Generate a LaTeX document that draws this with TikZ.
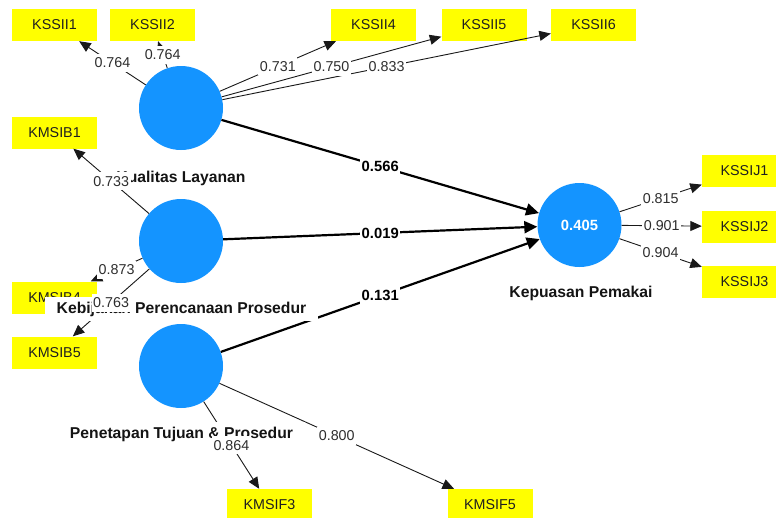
\documentclass[tikz,border=0pt]{standalone}
\usepackage{fontspec}
\setmainfont{Liberation Sans}
\usetikzlibrary{arrows.meta}
\definecolor{lvblue}{RGB}{20,148,255}
\definecolor{mvyellow}{RGB}{255,255,0}
\definecolor{ldgray}{RGB}{45,45,45}
\begin{document}
\begin{tikzpicture}[x=1pt,y=-1pt,
  lv/.style={circle,fill=lvblue,minimum size=84pt,inner sep=0pt,text=white,font=\fontsize{14.8}{16}\selectfont\bfseries},
  mv/.style={rectangle,fill=mvyellow,minimum width=85pt,minimum height=32pt,inner sep=0pt,font=\fontsize{14.3}{16}\selectfont,text=black!88},
  lvname/.style={fill=white,inner xsep=12pt,inner ysep=0pt,text height=11.5pt,text depth=3.5pt,minimum height=24pt,font=\fontsize{15.7}{18}\selectfont\bfseries,text=black!92},
  load/.style={draw=black!90,line width=0.9pt,-{Triangle[length=11.5pt,width=10pt]}},
  pathc/.style={draw=black,line width=2.2pt,-{Triangle[length=13pt,width=12pt]}},
  loadlbl/.style={fill=white,inner xsep=1.5pt,inner ysep=4pt,font=\fontsize{14.3}{16}\selectfont,text=ldgray},
  pathlbl/.style={fill=white,inner xsep=1.5pt,inner ysep=3pt,font=\fontsize{14.8}{16}\selectfont\bfseries}
]
\useasboundingbox (0,0) rectangle (776,517);
\clip (0,0) rectangle (776,517);
\fill[white] (0,0) rectangle (776,517);

% latent variables
\node[lv] (KL) at (181,108) {};
\node[lv] (KP) at (181,241) {};
\node[lv] (PT) at (181,366) {};
\node[lv] (KEP) at (579.5,225) {0.405};

% indicators
\node[mv] (KSSII1) at (54.5,25) {KSSII1};
\node[mv] (KSSII2) at (152.5,25) {KSSII2};
\node[mv] (KSSII4) at (373.5,25) {KSSII4};
\node[mv] (KSSII5) at (484,25) {KSSII5};
\node[mv] (KSSII6) at (593.5,25) {KSSII6};
\node[mv] (KMSIB1) at (54.5,132.5) {KMSIB1};
\node[mv] (KMSIB4) at (54.5,297.5) {KMSIB4};
\node[mv] (KMSIB5) at (54.5,352.5) {KMSIB5};
\node[mv] (KSSIJ1) at (744.5,170.5) {KSSIJ1};
\node[mv] (KSSIJ2) at (744.5,226.5) {KSSIJ2};
\node[mv] (KSSIJ3) at (744.5,281.5) {KSSIJ3};
\node[mv] (KMSIF3) at (269.5,505) {KMSIF3};
\node[mv] (KMSIF5) at (490,505) {KMSIF5};

% outer model connectors
\draw[load] (KL) -- (KSSII1);
\draw[load] (KL) -- (KSSII2);
\draw[load] (KL) -- (KSSII4);
\draw[load] (KL) -- (KSSII5);
\draw[load] (KL) -- (KSSII6);
\draw[load] (KP) -- (KMSIB1);
\draw[load] (KP) -- (KMSIB4);
\draw[load] (KP) -- (KMSIB5);
\draw[load] (PT) -- (KMSIF3);
\draw[load] (PT) -- (KMSIF5);
\draw[load] (KEP) -- (KSSIJ1);
\draw[load] (KEP) -- (KSSIJ2);
\draw[load] (KEP) -- (KSSIJ3);

% inner model connectors
\draw[pathc] (KL) -- (KEP);
\draw[pathc] (KP) -- (KEP);
\draw[pathc] (PT) -- (KEP);

% latent names
\node[lvname] (nKL) at (181,178) {Kualitas Layanan};
\node[lvname] (nKP) at (181.5,309) {Kebijakan Perencanaan Prosedur};
\node[lvname] (nPT) at (181.5,434) {Penetapan Tujuan \& Prosedur};
\node[lvname] (nKEP) at (581,293) {Kepuasan Pemakai};

% loading labels
\path (KL) -- (KSSII1) node[midway,loadlbl] {0.764};
\path (KL) -- (KSSII2) node[midway,loadlbl] {0.764};
\path (KL) -- (KSSII4) node[midway,loadlbl] {0.731};
\path (KL) -- (KSSII5) node[midway,loadlbl] {0.750};
\path (KL) -- (KSSII6) node[midway,loadlbl] {0.833};
\path (KP) -- (KMSIB1) node[midway,loadlbl] {0.733};
\path (KP) -- (KMSIB4) node[midway,loadlbl] {0.873};
\path (KP) -- (KMSIB5) node[midway,loadlbl] {0.763};
\path (PT) -- (KMSIF3) node[midway,loadlbl] {0.864};
\path (PT) -- (KMSIF5) node[midway,loadlbl] {0.800};
\path (KEP) -- (KSSIJ1) node[midway,loadlbl] {0.815};
\path (KEP) -- (KSSIJ2) node[midway,loadlbl] {0.901};
\path (KEP) -- (KSSIJ3) node[midway,loadlbl] {0.904};

% path coefficients
\path (KL) -- (KEP) node[midway,pathlbl] {0.566};
\path (KP) -- (KEP) node[midway,pathlbl] {0.019};
\path (PT) -- (KEP) node[midway,pathlbl] {0.131};
\end{tikzpicture}
\end{document}
